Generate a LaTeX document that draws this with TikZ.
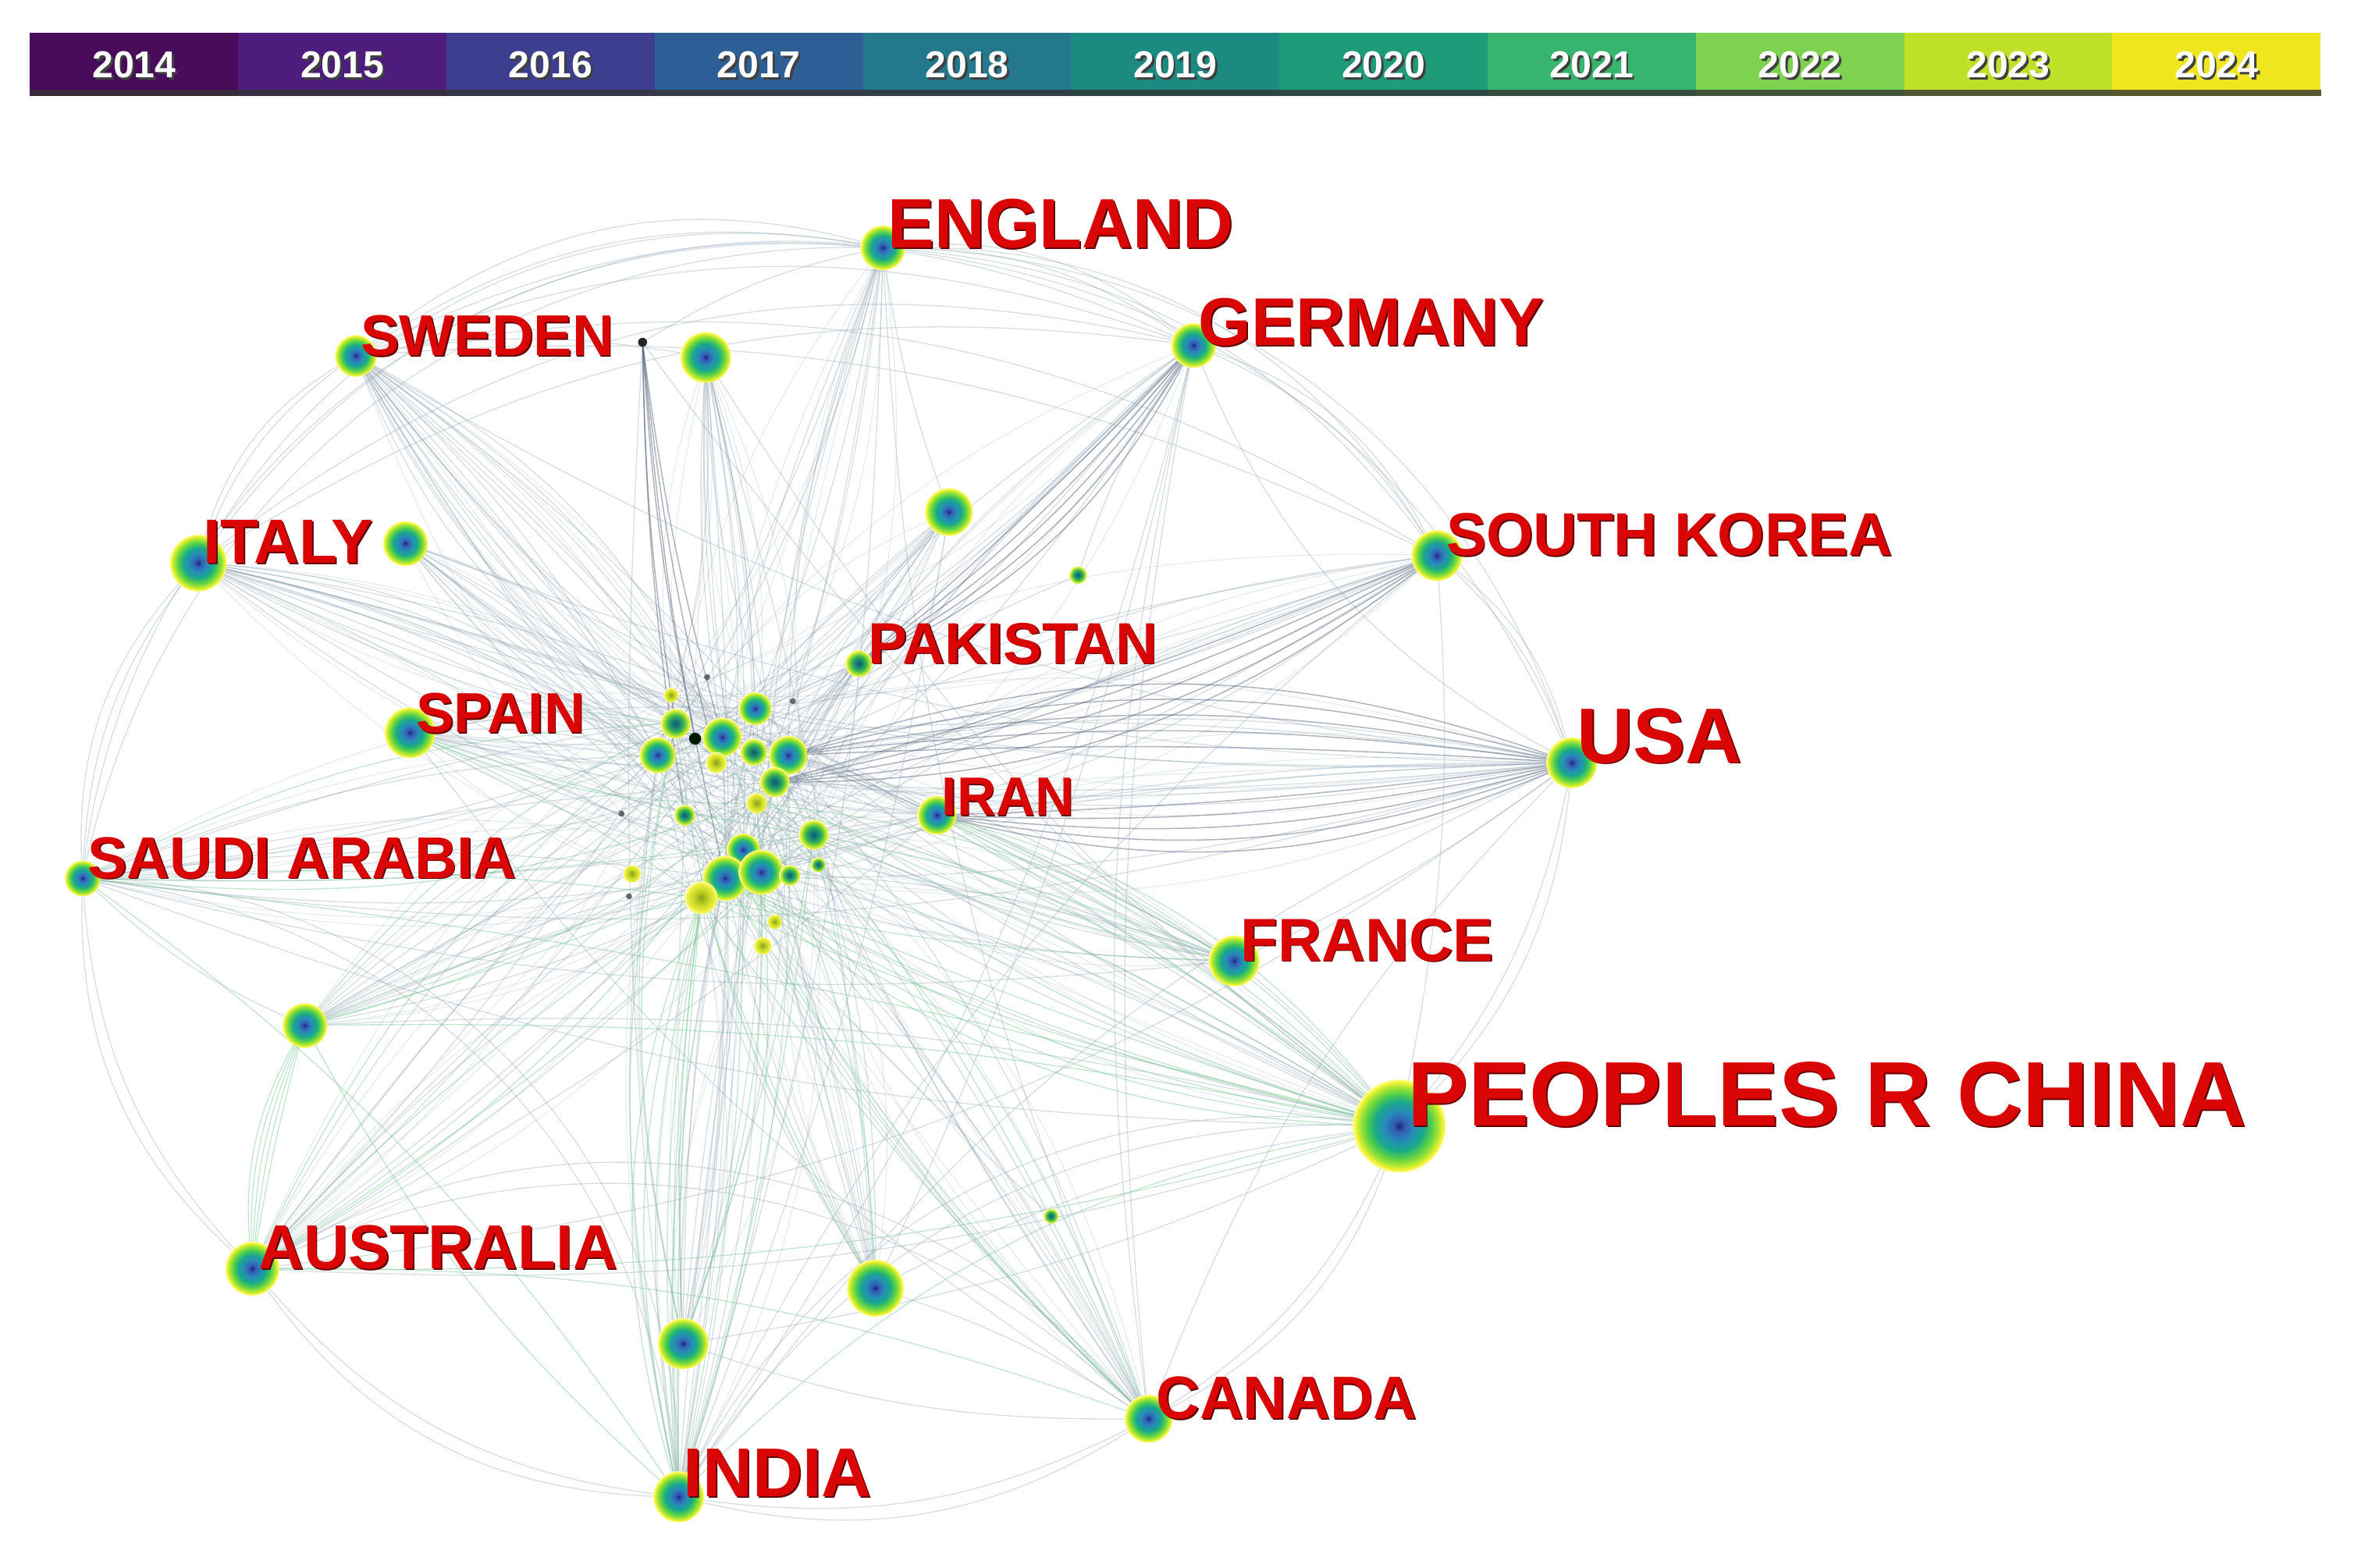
\documentclass[tikz,border=0pt]{standalone}
\usepackage{fontspec}
\setmainfont{Liberation Sans}
\usetikzlibrary{calc}
\definecolor{labred}{RGB}{218,6,6}
\definecolor{labdark}{RGB}{100,0,0}
\definecolor{y2014}{RGB}{72,12,90}
\definecolor{y2015}{RGB}{78,28,125}
\definecolor{y2016}{RGB}{62,62,145}
\definecolor{y2017}{RGB}{45,95,150}
\definecolor{y2018}{RGB}{35,120,140}
\definecolor{y2019}{RGB}{28,138,128}
\definecolor{y2020}{RGB}{30,155,120}
\definecolor{y2021}{RGB}{55,180,110}
\definecolor{y2022}{RGB}{125,210,80}
\definecolor{y2023}{RGB}{190,225,40}
\definecolor{y2024}{RGB}{240,230,30}
\definecolor{edgegray}{RGB}{145,165,180}
\definecolor{edgegreen}{RGB}{125,200,150}
\definecolor{edgedark}{RGB}{80,92,115}
\pgfdeclareradialshading{ring}{\pgfpoint{0bp}{0bp}}{rgb(0bp)=(0.1,0.15,0.45); rgb(3bp)=(0.2,0.35,0.7); rgb(8bp)=(0.15,0.55,0.72); rgb(13bp)=(0.1,0.66,0.55); rgb(17bp)=(0.3,0.8,0.3); rgb(21bp)=(0.65,0.9,0.2); rgb(23.5bp)=(0.95,0.95,0.2); rgb(25bp)=(1,1,0.6); rgb(26bp)=(1,1,1); rgb(50bp)=(1,1,1)}
\pgfdeclareradialshading{ringS}{\pgfpoint{0bp}{0bp}}{rgb(0bp)=(0.05,0.35,0.45); rgb(7bp)=(0.1,0.52,0.45); rgb(14bp)=(0.25,0.72,0.3); rgb(19bp)=(0.6,0.88,0.2); rgb(23bp)=(0.93,0.94,0.25); rgb(25bp)=(1,1,0.6); rgb(26bp)=(1,1,1); rgb(50bp)=(1,1,1)}
\pgfdeclareradialshading{ringY}{\pgfpoint{0bp}{0bp}}{rgb(0bp)=(0.55,0.62,0.1); rgb(12bp)=(0.78,0.85,0.15); rgb(21bp)=(0.94,0.94,0.25); rgb(25bp)=(1,1,0.65); rgb(26bp)=(1,1,1); rgb(50bp)=(1,1,1)}
\newcommand{\clab}[5]{%
  \node[lblsh, font=\bfseries\fontsize{#4}{#4}\selectfont] at ($(#2)+(#3+0.9,0.9)$) {#5};
  \node[lbl, font=\bfseries\fontsize{#4}{#4}\selectfont] (#1) at ($(#2)+(#3,0)$) {#5};}
\tikzset{
  edgeA/.style={draw=edgegray, line width=0.35pt, opacity=0.35},
  edgeL/.style={draw=edgegray, line width=0.3pt, opacity=0.22},
  edgeG/.style={draw=edgegreen, line width=0.35pt, opacity=0.45},
  edgeD/.style={draw=edgedark, line width=0.4pt, opacity=0.45},
  lbl/.style={text=labred, inner sep=0pt, anchor=base west},
  lblsh/.style={text=labdark, inner sep=0pt, anchor=base west},
  yearbox/.style={draw=none, minimum width=69.35pt, minimum height=21pt, inner sep=0pt},
  yeartxt/.style={font=\bfseries\fontsize{12.5}{12.5}\selectfont, inner sep=0pt}
}
\begin{document}
\begin{tikzpicture}[x=0.5pt,y=-0.5pt]
\useasboundingbox (0,0) rectangle (1568,1044);
\fill[white] (0,0) rectangle (1568,1044);
% ---------- colour bar ----------
\foreach \yr [count=\i from 0] in {2014,2015,2016,2017,2018,2019,2020,2021,2022,2023,2024}{
  \node[yearbox, fill=y\yr] (yb\yr) at ({20+138.7*(\i+0.5)},43) {};
  \node[yeartxt, text=black!75] at ({21.5+138.7*(\i+0.5)},44.5) {\yr};
  \node[yeartxt, text=white] (yt\yr) at ({20+138.7*(\i+0.5)},43) {\yr};
}
\fill[black!80, opacity=0.8] (20,60) rectangle (1546,64);
% ---------- coordinates ----------
\coordinate (eng) at (588,165);
\coordinate (ger) at (795,230);
\coordinate (swe) at (237,237);
\coordinate (ua) at (470,238);
\coordinate (dk) at (428,228);
\coordinate (ita) at (132,375);
\coordinate (itb) at (270,362);
\coordinate (nc) at (632,341);
\coordinate (ga) at (718,383);
\coordinate (sko) at (957,370);
\coordinate (pak) at (572,442);
\coordinate (spa) at (273,488);
\coordinate (usa) at (1047,508);
\coordinate (iran) at (624,543);
\coordinate (sau) at (55,585);
\coordinate (fra) at (822,640);
\coordinate (nd) at (203,683);
\coordinate (chn) at (932,750);
\coordinate (gb) at (700,810);
\coordinate (aus) at (168,845);
\coordinate (ne) at (583,858);
\coordinate (nf) at (455,895);
\coordinate (can) at (765,945);
\coordinate (ind) at (452,997);
\coordinate (c1) at (503,472);
\coordinate (c2) at (450,482);
\coordinate (c3) at (481,491);
\coordinate (c4) at (438,503);
\coordinate (c5) at (463,492);
\coordinate (c6) at (502,501);
\coordinate (c7) at (525,503);
\coordinate (c8) at (477,508);
\coordinate (c9) at (516,521);
\coordinate (c10) at (504,535);
\coordinate (c11) at (456,543);
\coordinate (c12) at (542,556);
\coordinate (c13) at (495,566);
\coordinate (c14) at (483,585);
\coordinate (c15) at (507,581);
\coordinate (c16) at (526,583);
\coordinate (c17) at (467,598);
\coordinate (c18) at (545,576);
\coordinate (c19) at (421,582);
\coordinate (c20) at (516,614);
\coordinate (c21) at (508,630);
\coordinate (c22) at (447,463);
\coordinate (d1) at (471,451);
\coordinate (d2) at (414,542);
\coordinate (d3) at (419,597);
\coordinate (d4) at (528,467);
% ---------- edges: periphery to centre ----------
\foreach \p in {eng,ger,swe,ua,ita,itb,nc,sko,spa,usa,iran,sau,fra,nd,chn,aus,ne,nf,can,ind,pak}{
  \foreach \c/\b in {c1/6,c3/-6,c4/10,c7/-10,c9/4,c13/-4,c14/8,c15/-8}{
    \draw[edgeA] (\p) to[bend left=\b] (\c);
  }
  \foreach \c/\b in {c2/-14,c6/14,c10/-2,c11/2,c12/-16,c16/16,c17/-12,c22/12}{
    \draw[edgeL] (\p) to[bend left=\b] (\c);
  }
}
\foreach \p in {chn,ind,aus,can,sau,nd,ne,nf,fra,spa}{
  \foreach \c/\b in {c17/5,c12/-5,c2/12,c10/-12}{
    \draw[edgeG] (\p) to[bend left=\b] (\c);
  }
}
% ---------- bundles ----------
\foreach \b in {3,7,11,15,19}{
  \draw[edgeD] (usa) to[bend left=\b] (iran);
  \draw[edgeD] (usa) to[bend right=\b] (c7);
  \draw[edgeD] (sko) to[bend left=\b] (c9);
  \draw[edgeD] (ger) to[bend left=\b] (pak);
  \draw[edgeA] (swe) to[bend left=\b] (c3);
  \draw[edgeA] (swe) to[bend right=\b] (c2);
  \draw[edgeG] (chn) to[bend left=\b] (c14);
  \draw[edgeG] (chn) to[bend right=\b] (iran);
  \draw[edgeA] (ita) to[bend left=\b] (c4);
  \draw[edgeG] (ind) to[bend left=\b] (c17);
  \draw[edgeG] (aus) to[bend left=\b] (nd);
}
\foreach \c in {c2,c3,c5,c8,c11,c14}{\draw[edgeD] (dk) to[bend right=4] (\c);}
\foreach \c in {c1,c6,c13,ind,ne}{\draw[edgeA] (ua) to[bend left=6] (\c);}
% ---------- edges among periphery ----------
\foreach \a/\z/\b in {swe/eng/22, eng/ger/18, ger/sko/18, sko/usa/15, usa/chn/15, chn/can/18, can/ind/18,
  ind/aus/22, aus/sau/20, sau/ita/18, ita/swe/18, swe/ger/20, eng/usa/30, ita/eng/30, sau/eng/40,
  sau/ind/40, aus/can/35, ind/chn/30, eng/sko/25, swe/sko/15, ita/ger/20}{
  \draw[edgeA] (\a) to[bend left=\b] (\z);
  \draw[edgeA] (\a) to[bend left=\b+6] (\z);
}
\foreach \a/\z/\b in {ger/usa/-20, aus/chn/-10, sau/chn/-10, spa/usa/-8, ita/usa/-10, swe/usa/-12,
  ita/chn/12, spa/chn/10, nd/chn/8, nd/sau/10, eng/ind/8, eng/can/-10, ger/can/-8, sko/iran/10,
  fra/sau/10, fra/ita/-8, can/usa/12, ind/usa/15, ne/can/8, nf/can/-10, nf/chn/-8, ne/chn/10,
  eng/aus/12, ger/ind/10, sko/chn/8, usa/fra/6, fra/chn/6, nc/ind/6, nc/aus/-6, pak/sau/8,
  iran/aus/6, iran/ita/-6, ga/nd/-6, gb/swe/8, ga/ger/8, nc/eng/6, ua/swe/-10, dk/eng/10,
  dk/ind/-5, dk/chn/-8, ua/chn/-10, itb/usa/-10, itb/can/12, spa/can/-10, sau/usa/-12, nd/usa/10,
  aus/usa/-15, ind/sko/12, can/ger/10, ne/ger/-6}{
  \draw[edgeA] (\a) to[bend left=\b] (\z);
}
\foreach \a/\z/\b in {chn/ind/-18, chn/aus/8, chn/nd/-6, can/aus/-10, ind/nd/10, ind/sau/-10, chn/sau/-4, can/c14/6, ind/c13/-6}{
  \draw[edgeG] (\a) to[bend left=\b] (\z);
}
% ---------- nodes ----------
\foreach \n/\r in {eng/15, ger/15, swe/14, ua/17, ita/19, itb/15, nc/16, sko/17, spa/17, usa/17,
  iran/13, sau/12, fra/17, nd/15, aus/18, ne/19, nf/17, can/16, ind/17, c1/11, c3/13, c4/12, c7/13,
  c13/11, c14/15, c15/15}{
  \shade[shading=ring] (\n) circle (\r);
}
\shade[shading=ring] (chn) circle (31);
\foreach \n/\r in {pak/9, ga/6, gb/5, c2/10, c6/9, c9/10, c11/7, c12/10, c16/7, c18/5}{
  \shade[shading=ringS] (\n) circle (\r);
}
\foreach \n/\r in {c8/7, c10/7, c17/11, c19/6, c20/5, c21/6, c22/5}{
  \shade[shading=ringY] (\n) circle (\r);
}
\fill[black!70!green!30!black] (c5) circle (4);
\fill[black!85] (dk) circle (3);
\foreach \n in {d1,d2,d3,d4}{\fill[black!60] (\n) circle (2);}
% ---------- labels ----------
\clab{engL}{eng}{3}{23.3}{ENGLAND}
\clab{gerL}{ger}{3}{22.5}{GERMANY}
\clab{sweL}{swe}{3}{19.2}{SWEDEN}
\clab{itaL}{ita}{3}{20.8}{ITALY}
\clab{skoL}{sko}{6}{20.1}{SOUTH KOREA}
\clab{pakL}{pak}{6}{19.4}{PAKISTAN}
\clab{spaL}{spa}{4}{18.8}{SPAIN}
\clab{usaL}{usa}{3}{26}{USA}
\clab{iranL}{iran}{3}{18}{IRAN}
\clab{sauL}{sau}{3}{19.6}{SAUDI ARABIA}
\clab{fraL}{fra}{4}{20.2}{FRANCE}
\clab{chnL}{chn}{5}{30.5}{PEOPLES R CHINA}
\clab{ausL}{aus}{4}{20.7}{AUSTRALIA}
\clab{canL}{can}{5}{20}{CANADA}
\clab{indL}{ind}{3}{23}{INDIA}
\end{tikzpicture}
\end{document}
